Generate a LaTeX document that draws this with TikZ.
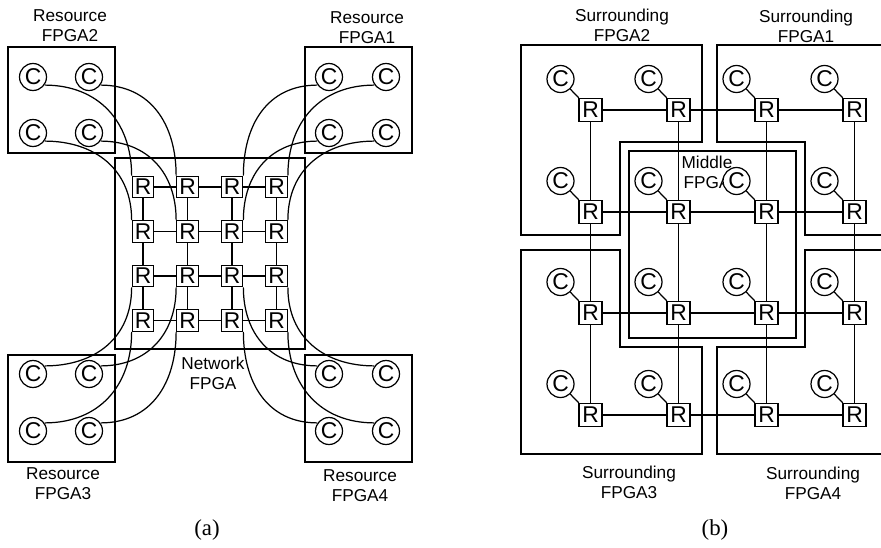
\documentclass[tikz,border=0pt]{standalone}
\usepackage{fontspec}
\setmainfont{Liberation Sans}
\newfontfamily\capfont{Liberation Serif}
\usetikzlibrary{positioning}

\begin{document}
\begin{tikzpicture}[
  x=0.02cm, y=0.02cm, line width=0.7pt,
  router/.style={draw, fill=white, inner sep=0pt, minimum size=4.3mm,
                 font=\fontsize{13}{13}\selectfont},
  routerb/.style={router, minimum size=4.6mm},
  core/.style={draw, circle, fill=white, inner sep=0pt, minimum size=5.4mm,
               font=\fontsize{13}{13}\selectfont},
  lbl/.style={align=center, font=\fontsize{9.8}{11.4}\selectfont},
  subcap/.style={font=\capfont\fontsize{13}{14}\selectfont}
]
\clip (0,0) rectangle (881,-547);

% (a)
\draw (115,-158) rectangle (305,-349);
\draw (8,-47) rectangle (115,-153);
\draw (305,-47) rectangle (412,-153);
\draw (8,-355) rectangle (115,-462);
\draw (305,-355) rectangle (412,-462);

\node[lbl] (la2) at (70,-26) {Resource\\FPGA2};
\node[lbl] (la1) at (367,-28) {Resource\\FPGA1};
\node[lbl] (la3) at (63,-484) {Resource\\FPGA3};
\node[lbl] (la4) at (360,-486) {Resource\\FPGA4};
\node[lbl] (lnet) at (213,-373) {Network\\FPGA};

\foreach \r/\y in {1/187,2/231.5,3/276,4/320.5}
  \foreach \c/\x in {1/143,2/187.5,3/232,4/276.5}
    \node[router] (ra\r\c) at (\x,-\y) {R};
\foreach \r/\y in {1/77,2/133,3/374,4/431}
  \foreach \c/\x in {1/33,2/89,3/329,4/386}
    \node[core] (ca\r\c) at (\x,-\y) {C};

\foreach \i in {1,...,4} {
  \draw (ra\i1) -- (ra\i2) -- (ra\i3) -- (ra\i4);
  \draw (ra1\i) -- (ra2\i) -- (ra3\i) -- (ra4\i);
}
\foreach \r in {1,2} {
  \foreach \c in {1,2}
    \draw (ca\r\c.-35) to[out=0, in=90, looseness=1.1] (ra\r\c.north west);
  \foreach \c in {3,4}
    \draw (ca\r\c.-145) to[out=180, in=90, looseness=1.1] (ra\r\c.north east);
}
\foreach \r in {3,4} {
  \foreach \c in {1,2}
    \draw (ca\r\c.35) to[out=0, in=-90, looseness=1.1] (ra\r\c.south west);
  \foreach \c in {3,4}
    \draw (ca\r\c.145) to[out=180, in=-90, looseness=1.1] (ra\r\c.south east);
}
\node[subcap] (capa) at (207,-530) {(a)};

% (b)
\draw (521,-45) -- (702,-45) -- (702,-142) -- (620,-142) -- (620,-235) -- (521,-235) -- cycle;
\draw (895,-45) -- (717,-45) -- (717,-142) -- (805,-142) -- (805,-235) -- (895,-235);
\draw (521,-250) -- (620,-250) -- (620,-347) -- (702,-347) -- (702,-454) -- (521,-454) -- cycle;
\draw (895,-250) -- (805,-250) -- (805,-347) -- (717,-347) -- (717,-454) -- (895,-454);
\draw (629,-151) rectangle (796,-338);

\node[lbl] (lb2) at (622,-25) {Surrounding\\FPGA2};
\node[lbl] (lb1) at (806,-26) {Surrounding\\FPGA1};
\node[lbl] (lb3) at (629,-482) {Surrounding\\FPGA3};
\node[lbl] (lb4) at (813,-483) {Surrounding\\FPGA4};
\node[lbl] (lmid) at (707,-172) {Middle\\FPGA};

\foreach \r/\y in {1/110,2/212,3/313,4/415}
  \foreach \c/\x in {1/590.5,2/678.5,3/766.5,4/854.5} {
    \node[routerb] (rb\r\c) at (\x,-\y) {R};
    \node[core] (cb\r\c) at (\x-30,-\y+31) {C};
    \draw (cb\r\c) -- (rb\r\c);
  }
\foreach \i in {1,...,4} {
  \draw (rb\i1) -- (rb\i2) -- (rb\i3) -- (rb\i4);
  \draw (rb1\i) -- (rb2\i) -- (rb3\i) -- (rb4\i);
}
\node[subcap] (capb) at (715,-530) {(b)};
\end{tikzpicture}
\end{document}
